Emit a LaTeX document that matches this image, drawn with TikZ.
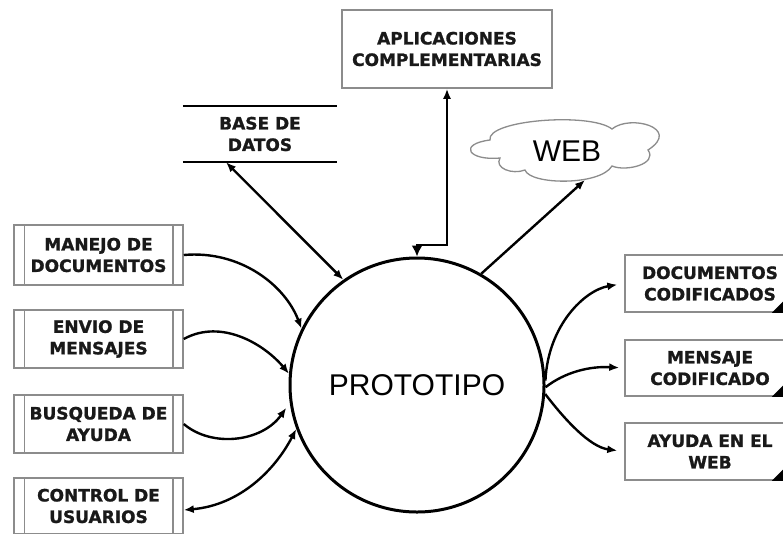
\documentclass[tikz,border=0pt]{standalone}
\usepackage{fontspec}
\setmainfont{Liberation Sans}
\newfontfamily\boxfont{DejaVu Sans}[BoldFeatures={FakeBold=1.2}]
\usetikzlibrary{arrows.meta}
\begin{document}
\begin{tikzpicture}[x=1pt,y=-1pt,
  lbl/.style={font=\boxfont\bfseries\fontsize{17}{21.5}\selectfont, align=center, inner sep=0pt, text=black!90},
  graybox/.style={lbl, draw=black!45, line width=1.5pt, rectangle},
  grayline/.style={draw=black!45, line width=1.5pt},
  tipA/.tip={Latex[length=10pt,width=8pt]},
  conn/.style={line width=2.4pt, -tipA},
  conn2/.style={line width=2.4pt, tipA-tipA}]
\clip (0,0) rectangle (783,533);
\fill[white] (0,0) rectangle (783,533);

% central process
\node[circle, draw, line width=3pt, minimum size=254pt, inner sep=0pt,
      font=\fontsize{30}{36}\selectfont] (proto) at (417,385) {PROTOTIPO};

% left boxes
\node[graybox, minimum width=169pt, minimum height=60pt] (m1) at (98.5,255) {MANEJO DE\\DOCUMENTOS};
\node[graybox, minimum width=169pt, minimum height=58pt] (m2) at (98.5,339) {ENVIO DE\\MENSAJES};
\node[graybox, minimum width=169pt, minimum height=58pt] (m3) at (98.5,424) {BUSQUEDA DE\\AYUDA};
\node[graybox, minimum width=169pt, minimum height=56pt] (m4) at (98.5,506) {CONTROL DE\\USUARIOS};
\foreach \b in {m1,m2,m3,m4}{
  \draw[grayline] ([xshift=11pt]\b.north west) -- ([xshift=11pt]\b.south west);
  \draw[grayline] ([xshift=-11pt]\b.north east) -- ([xshift=-11pt]\b.south east);
}

% right boxes
\node[graybox, minimum width=170pt, minimum height=57pt] (r1) at (710,283.5) {DOCUMENTOS\\CODIFICADOS};
\node[graybox, minimum width=170pt, minimum height=56pt] (r2) at (710,368) {MENSAJE\\CODIFICADO};
\node[graybox, minimum width=170pt, minimum height=57pt] (r3) at (710,451.5) {AYUDA EN EL\\WEB};
\foreach \b in {r1,r2,r3}{
  \fill ([xshift=-24pt]\b.south east) -- (\b.south east) -- ([yshift=24pt]\b.south east) -- cycle;
}

% top box
\node[graybox, minimum width=210pt, minimum height=78pt] (apl) at (447,49) {APLICACIONES\\COMPLEMENTARIAS};

% data store
\node[lbl, minimum width=154pt, minimum height=56pt] (bd) at (260,134) {BASE DE\\DATOS};
\draw[line width=2.2pt] (bd.north west) -- (bd.north east);
\draw[line width=2.2pt] (bd.south west) -- (bd.south east);

% cloud
\draw[draw=black!45, line width=1.3pt, fill=white]
  (500,158) .. controls (468,161) and (458,144) .. (490,140)
  .. controls (486,120) and (590,112) .. (612,129)
  .. controls (630,114) and (682,128) .. (648,150)
  .. controls (658,164) and (626,172) .. (612,166)
  .. controls (600,186) and (530,185) .. (525,170)
  .. controls (512,175) and (494,168) .. (500,158) -- cycle;
\node[font=\fontsize{30}{36}\selectfont, inner sep=0pt] (web) at (567,151) {WEB};
\coordinate (webb) at (585,180);

% connectors
\draw[conn2] ([xshift=-34pt]bd.south) -- (proto.125);
\draw[line width=2pt, {Latex[length=11pt,width=11pt]}-tipA] (proto.north) -- ++(0,-12) -| (apl.south);
\draw[conn] (proto.60.6) -- (webb);

\draw[conn] (m1.east) .. controls (240,250) and (285,285) .. (proto.154);
\draw[conn] (m2.east) .. controls (222,318) and (265,345) .. (proto.175.5);
\draw[conn, shorten >=6pt] (m3.east) .. controls (212,448) and (262,442) .. (proto.188);
\draw[conn2] ([yshift=-4pt]m4.east) .. controls (240,505) and (275,470) .. (proto.200);

\draw[conn, shorten >=7pt] (proto.2) .. controls (548,325) and (585,290) .. (r1.west);
\draw[conn, shorten >=5pt] (proto.-1) .. controls (565,372) and (590,366) .. (r2.west);
\draw[conn, shorten >=7pt] (proto.-4) .. controls (565,420) and (590,447) .. (r3.west);
\end{tikzpicture}
\end{document}
